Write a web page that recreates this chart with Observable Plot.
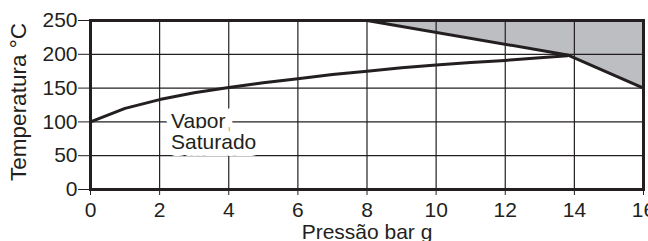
<!DOCTYPE html>
<html>
<head>
<meta charset="utf-8">
<script src="https://cdn.jsdelivr.net/npm/d3@7"></script>
<script src="https://cdn.jsdelivr.net/npm/@observablehq/plot@0.6"></script>
<style>
  html, body { margin: 0; padding: 0; background: #fff; }
  #chart svg { display: block; }
</style>
</head>
<body>
<div id="chart"></div>
<script>
// Saturated steam curve (pressure bar g, temperature °C)
const satPressure = [0, 1, 2, 3, 4, 5, 6, 7, 8, 9, 10, 11, 12, 13, 13.8];
const satTemp     = [100, 120, 133, 143, 151, 158, 164, 170, 175, 180, 184, 188, 191, 195, 198];

// Boundary of the grey region
const limPressure = [8, 13.8, 16];
const limTemp     = [250, 199, 150];
const topTemp     = 250;

const xTicks = [0, 2, 4, 6, 8, 10, 12, 14, 16];
const yTicks = [0, 50, 100, 150, 200, 250];

const labelText = ["Vapor\nSaturado"];
const labelX = [2.33];
const labelY = [86];

const xTitle = "Pressão bar g";
const yTitle = "Temperatura °C";

const sat = satPressure.map((p, i) => ({p, t: satTemp[i]}));
const lim = limPressure.map((p, i) => ({p, t: limTemp[i]}));
const lbl = labelText.map((s, i) => ({s, p: labelX[i], t: labelY[i]}));

const ink = "#231f20";
const chart = Plot.plot({
  width: 648,
  height: 241,
  marginLeft: 90,
  marginRight: 5,
  marginTop: 20,
  marginBottom: 52,
  style: {fontFamily: "'Liberation Sans', Arial, Helvetica, sans-serif", fontSize: "21px", color: ink, background: "#fff"},
  x: {domain: [0, 16]},
  y: {domain: [0, 250]},
  marks: [
    Plot.areaY(lim, {x: "p", y1: "t", y2: () => topTemp, fill: "#bdbec1"}),
    Plot.gridX(xTicks, {stroke: ink, strokeOpacity: 1, strokeWidth: 1.2}),
    Plot.gridY(yTicks, {stroke: ink, strokeOpacity: 1, strokeWidth: 1.2}),
    Plot.text(lbl, {x: "p", y: "t", text: "s", textAnchor: "start", lineAnchor: "middle", fontSize: 21, lineHeight: 1.02, fill: ink, stroke: "white", strokeWidth: 14, strokeLinejoin: "miter"}),
    Plot.line(sat, {x: "p", y: "t", stroke: ink, strokeWidth: 3}),
    Plot.line(lim, {x: "p", y: "t", stroke: ink, strokeWidth: 3}),
    Plot.axisX({ticks: xTicks, tickSize: 6, tickPadding: 7, fontSize: 21, label: xTitle, labelAnchor: "center", labelArrow: "none", labelOffset: 49, stroke: ink, color: ink}),
    Plot.axisY({ticks: yTicks, tickSize: 12, tickPadding: 1, fontSize: 21, label: null, stroke: ink, color: ink}),
    Plot.text([yTitle], {frameAnchor: "left", text: d => d, rotate: -90, textAnchor: "middle", lineAnchor: "middle", dx: -72, dy: -3, fontSize: 22.5, fill: ink}),
    Plot.frame({stroke: ink, strokeWidth: 3})
  ]
});
document.getElementById("chart").appendChild(chart);
</script>
</body>
</html>
